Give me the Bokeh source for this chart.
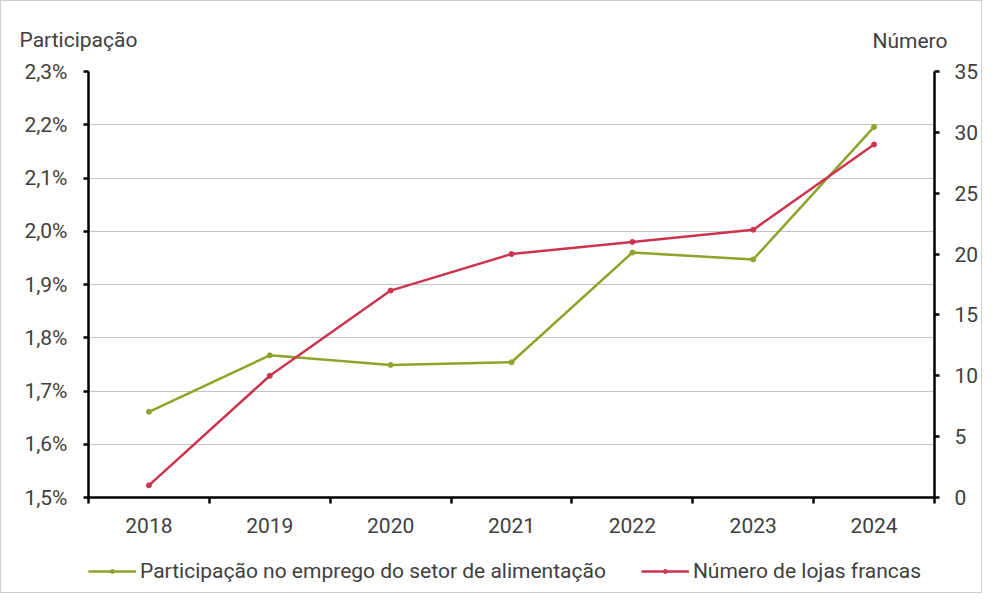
from bokeh.plotting import figure
from bokeh.layouts import column
from bokeh.models import (LinearAxis, Range1d, FixedTicker, CustomJSTickFormatter,
                          Legend, LegendItem, Title)
from bokeh.embed import file_html
from bokeh.resources import INLINE

years = ["2018", "2019", "2020", "2021", "2022", "2023", "2024"]
participacao = [1.661, 1.767, 1.749, 1.754, 1.960, 1.947, 2.196]
lojas = [1, 10, 17, 20, 21, 22, 29]
left_ticks = [1.5, 1.6, 1.7, 1.8, 1.9, 2.0, 2.1, 2.2, 2.3]
right_ticks = [0, 5, 10, 15, 20, 25, 30, 35]
name_green = "Participação no emprego do setor de alimentação"
name_red = "Número de lojas francas"
title_left = "Participação"
title_right = "Número"

FONT = "Roboto"
TXT = "#404040"
GREEN = "#8ca52a"
RED = "#cc3450"
FS = "21px"
W = 980

xs = list(range(len(years)))

p = figure(width=W, height=545, output_backend="svg", toolbar_location=None,
           x_range=Range1d(-0.5, len(years) - 0.5), y_range=Range1d(1.5, 2.3),
           min_border_left=87, min_border_right=43, min_border_top=70, min_border_bottom=49)
p.outline_line_color = None
p.extra_y_ranges = {"right": Range1d(0, 35)}

# grid
p.xgrid.visible = False
p.ygrid.grid_line_color = "#c4c4c4"
p.ygrid.grid_line_width = 1

# x axis
xa = p.xaxis[0]
xa.ticker = FixedTicker(ticks=xs, minor_ticks=[i - 0.5 for i in range(len(years) + 1)])
xa.formatter = CustomJSTickFormatter(args=dict(labels=years),
                                     code="return labels[Math.round(tick)] || '';")
xa.axis_line_color = "black"
xa.axis_line_width = 2.5
xa.major_tick_line_color = None
xa.major_tick_out = 0
xa.minor_tick_line_color = "black"
xa.minor_tick_line_width = 2.5
xa.minor_tick_out = 6
xa.minor_tick_in = 0
xa.major_label_standoff = 14
xa.major_label_text_font = FONT
xa.major_label_text_font_size = FS
xa.major_label_text_color = TXT

# left y axis
ya = p.yaxis[0]
ya.ticker = FixedTicker(ticks=left_ticks, minor_ticks=[])
ya.formatter = CustomJSTickFormatter(code="return tick.toFixed(1).replace('.', ',') + '%';")
ya.axis_line_color = "black"
ya.axis_line_width = 2.5
ya.major_tick_line_color = "black"
ya.major_tick_line_width = 2.5
ya.major_tick_out = 5
ya.major_tick_in = 0
ya.minor_tick_line_color = None
ya.major_label_standoff = 16
ya.major_label_text_font = FONT
ya.major_label_text_font_size = FS
ya.major_label_text_color = TXT

# right y axis
ra = LinearAxis(y_range_name="right")
ra.ticker = FixedTicker(ticks=right_ticks, minor_ticks=[])
ra.axis_line_color = "black"
ra.axis_line_width = 2.5
ra.major_tick_line_color = "black"
ra.major_tick_line_width = 2.5
ra.major_tick_out = 5
ra.major_tick_in = 0
ra.minor_tick_line_color = None
ra.major_label_standoff = 15
ra.major_label_text_font = FONT
ra.major_label_text_font_size = FS
ra.major_label_text_color = TXT
p.add_layout(ra, "right")

# series
gl = p.line(xs, participacao, line_color=GREEN, line_width=2.5)
gs = p.scatter(xs, participacao, size=5, fill_color=GREEN, line_color=GREEN)
rl = p.line(xs, lojas, line_color=RED, line_width=2.5, y_range_name="right")
rs = p.scatter(xs, lojas, size=5, fill_color=RED, line_color=RED, y_range_name="right")

# axis titles on top, on one line
tA = Title(text=title_right, align="right", offset=-13, standoff=38, vertical_align="bottom",
           text_font=FONT, text_font_size=FS, text_font_style="normal", text_color=TXT)
tB = Title(text=title_left, align="left", offset=-69, standoff=-88, vertical_align="bottom",
           text_font=FONT, text_font_size=FS, text_font_style="normal", text_color=TXT)
p.add_layout(tA, "above")
p.add_layout(tB, "above")

# legend strip below the chart (its series sit outside its visible y range;
# only their legend glyphs show)
H2 = 46
p2 = figure(width=W, height=H2, output_backend="svg", toolbar_location=None,
            x_range=Range1d(0, W), y_range=Range1d(100, 100 + H2),
            min_border_left=0, min_border_right=0, min_border_top=0, min_border_bottom=0)
p2.axis.visible = False
p2.grid.visible = False
p2.outline_line_color = None
lg1 = p2.line(xs, participacao, line_color=GREEN, line_width=2.5)
lg2 = p2.scatter(xs, participacao, size=4, fill_color=GREEN, line_color=GREEN)
lr1 = p2.line(xs, lojas, line_color=RED, line_width=2.5)
lr2 = p2.scatter(xs, lojas, size=4, fill_color=RED, line_color=RED)
legend = Legend(items=[LegendItem(label=name_green, renderers=[lg1, lg2]),
                       LegendItem(label=name_red, renderers=[lr1, lr2])],
                orientation="horizontal", location=(0, 9),
                glyph_width=48, glyph_height=10, label_height=20, label_standoff=4, spacing=35,
                padding=0, margin=0, border_line_color=None, background_fill_alpha=0,
                label_text_font=FONT, label_text_font_size=FS, label_text_color=TXT)
p2.add_layout(legend, "center")

layout = column(p, p2, spacing=0, styles={"border": "1px solid #cfcfcf"})

open("out.html", "w").write(file_html(layout, INLINE))
